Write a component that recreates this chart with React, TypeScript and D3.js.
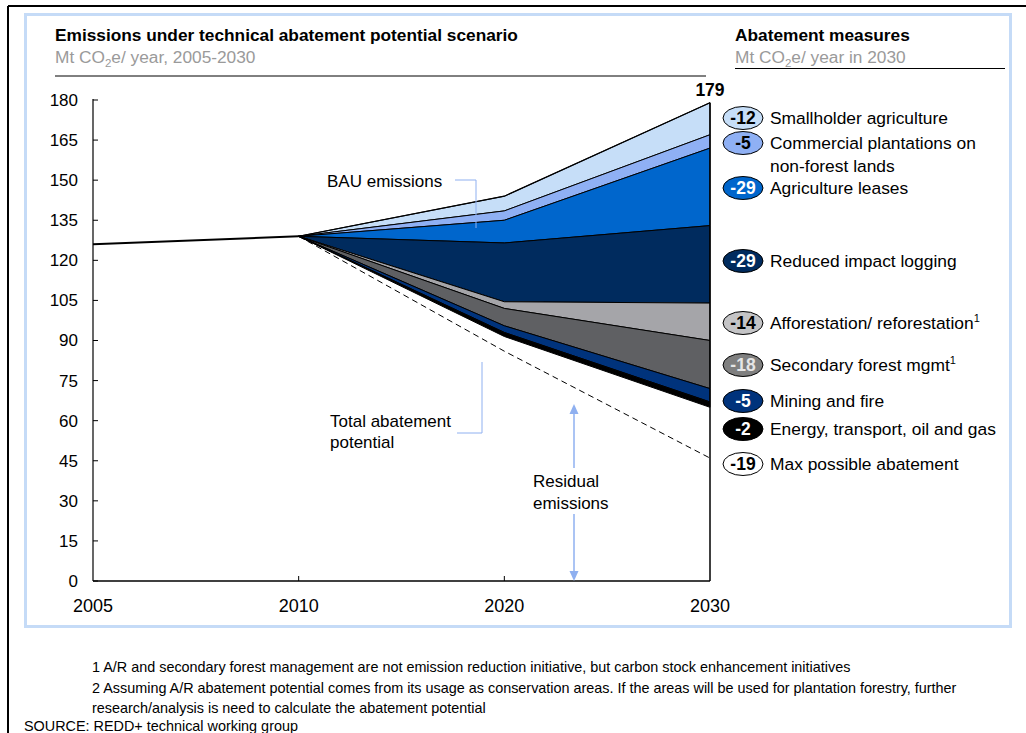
import React from "react";
import * as d3 from "d3";

// ---------- data ----------
const years = ["2005", "2010", "2020", "2030"];
const bauEmissions = [126, 129, 144, 179];
const measureNames = [
  "Smallholder agriculture",
  "Commercial plantations on\nnon-forest lands",
  "Agriculture leases",
  "Reduced impact logging",
  "Afforestation/ reforestation",
  "Secondary forest mgmt",
  "Mining and fire",
  "Energy, transport, oil and gas",
];
const measureLabels = ["-12", "-5", "-29", "-29", "-14", "-18", "-5", "-2"];
const measureNotes = ["", "", "", "", "1", "1", "", ""];
// reductions per measure (Mt CO2e) at 2010, 2020, 2030
const reduction2010 = [0, 0, 0, 0, 0, 0, 0, 0];
const reduction2020 = [5.5, 3.5, 8.5, 22, 2.5, 6.5, 2.5, 1.5];
const reduction2030 = [12, 5, 29, 29, 14, 18, 5, 2];
const maxAbatementExtra = [0, 5.5, 19]; // 2010, 2020, 2030
const maxAbatementLabel = "-19";
const maxAbatementName = "Max possible abatement";
const yTicks = [0, 15, 30, 45, 60, 75, 90, 105, 120, 135, 150, 165, 180];
const footnotes = [
  "1 A/R and secondary forest management are not emission reduction initiative, but carbon stock enhancement initiatives",
  "2 Assuming A/R abatement potential comes from its usage as conservation areas. If the areas will be used for plantation forestry, further",
  "research/analysis is need to calculate the abatement potential",
];
const sourceText = "SOURCE: REDD+ technical working group";

// ---------- styles ----------
const layerColors = ["#c6def8", "#8fb0f4", "#0066cc", "#002b5e", "#a5a5a9", "#5f6063", "#00337c", "#000000"];
const legendFill = ["#c6def8", "#8fb0f4", "#0066cc", "#002b5e", "#c4c4c6", "#7f7f7f", "#00337c", "#000000"];
const legendText = ["#000", "#000", "#fff", "#fff", "#000", "#e6e6e6", "#fff", "#fff"];
const legendY = [118, 143, 188, 261, 323, 365, 401, 429];
const maxLegendY = 464;
const FONT = "'Liberation Sans', Arial, sans-serif";
const annoColor = "#8fb0f0";

export default function App() {
  const x = d3.scalePoint<string>().domain(years).range([93, 710]).padding(0);
  const y = d3.scaleLinear().domain([0, 180]).range([581, 100]);

  const reductions = [reduction2010, reduction2020, reduction2030];
  const laterYears = years.slice(1);
  const laterBau = bauEmissions.slice(1);

  // cumulative boundaries: bounds[k][t] = value after subtracting first k measures
  const bounds: number[][] = [];
  for (let k = 0; k <= measureNames.length; k++) {
    bounds.push(
      laterYears.map((_, t) => laterBau[t] - d3.sum(reductions[t].slice(0, k)))
    );
  }
  const maxLine = laterYears.map((_, t) => bounds[measureNames.length][t] - maxAbatementExtra[t]);

  const layers = measureNames.map((_, k) => {
    const top = bounds[k];
    const bot = bounds[k + 1];
    const pts: [number, number][] = [
      ...top.map((v, t) => [x(laterYears[t]) as number, y(v)] as [number, number]),
      ...bot.map((v, t) => [x(laterYears[t]) as number, y(v)] as [number, number]).reverse(),
    ];
    return "M" + pts.map((p) => p.join(",")).join("L") + "Z";
  });

  const line = d3
    .line<[string, number]>()
    .x((d) => x(d[0]) as number)
    .y((d) => y(d[1]));

  const histLine = line([
    [years[0], bauEmissions[0]],
    [years[1], bauEmissions[1]],
  ]);
  const dashed = line(laterYears.map((yr, t) => [yr, maxLine[t]] as [string, number]));

  const x0 = x(years[0]) as number;
  const xEnd = x(years[3]) as number;

  const sub2 = (
    <>
      <tspan fontSize={11.5} dy={4}>2</tspan>
      <tspan dy={-4}>e/ </tspan>
    </>
  );

  return (
    <svg
      width={1026}
      height={733}
      style={{ position: "absolute", left: 0, top: 0, fontFamily: FONT }}
    >
      <rect x={0} y={0} width={1026} height={733} fill="#fff" />
      {/* outer black frame */}
      <line x1={8} y1={6} x2={1026} y2={6} stroke="#000" strokeWidth={2} />
      <line x1={8} y1={6} x2={8} y2={733} stroke="#000" strokeWidth={2} />
      {/* light blue frame */}
      <rect x={25.5} y={14.5} width={985} height={612} fill="none" stroke="#c5dbf7" strokeWidth={3} />

      {/* headers */}
      <text x={55} y={41} fontSize={17.3} fontWeight="bold" fill="#000">
        Emissions under technical abatement potential scenario
      </text>
      <text x={55} y={63} fontSize={17.3} fill="#9a9a9a">
        Mt CO{sub2}year, 2005-2030
      </text>
      <line x1={55} y1={76} x2={706} y2={76} stroke="#000" strokeWidth={1} />

      <text x={735} y={41} fontSize={17.3} fontWeight="bold" fill="#000">
        Abatement measures
      </text>
      <text x={735} y={63} fontSize={17.3} fill="#9a9a9a">
        Mt CO{sub2}year in 2030
      </text>
      <line x1={735} y1={68.5} x2={1005} y2={68.5} stroke="#000" strokeWidth={1} />

      {/* layers */}
      {layers.map((d, k) => (
        <path key={k} d={d} fill={layerColors[k]} stroke="#000" strokeWidth={1} strokeLinejoin="round" />
      ))}
      {/* BAU top line */}
      <path
        d={line(laterYears.map((yr, t) => [yr, laterBau[t]] as [string, number])) || ""}
        fill="none"
        stroke="#000"
        strokeWidth={1.2}
      />
      <path d={histLine || ""} fill="none" stroke="#000" strokeWidth={2} />
      <path d={dashed || ""} fill="none" stroke="#000" strokeWidth={1} strokeDasharray="6,4" />

      {/* axes */}
      <line x1={x0} y1={y(180) - 1} x2={x0} y2={y(0)} stroke="#000" strokeWidth={1.2} />
      <line x1={x0} y1={y(0)} x2={xEnd} y2={y(0)} stroke="#000" strokeWidth={1.5} />
      <line x1={xEnd} y1={y(bauEmissions[3])} x2={xEnd} y2={y(0)} stroke="#000" strokeWidth={1.5} />
      {yTicks.map((t) => (
        <g key={t}>
          <line x1={x0} y1={y(t)} x2={x0 + 5} y2={y(t)} stroke="#000" strokeWidth={1} />
          <text x={78} y={y(t)} dy="0.35em" fontSize={17} textAnchor="end" fill="#000">
            {t}
          </text>
        </g>
      ))}
      {years.map((yr, i) => (
        <g key={yr}>
          {i > 0 && i < years.length - 1 && (
            <line x1={x(yr)} y1={y(0)} x2={x(yr)} y2={y(0) - 5} stroke="#000" strokeWidth={1} />
          )}
          <text x={x(yr)} y={612} fontSize={18} textAnchor="middle" fill="#000">
            {yr}
          </text>
        </g>
      ))}
      <text x={xEnd} y={96} fontSize={17.5} fontWeight="bold" textAnchor="middle" fill="#000">
        {bauEmissions[3]}
      </text>

      {/* annotations */}
      <text x={327} y={187} fontSize={17} fill="#000">BAU emissions</text>
      <polyline points="455,180 476,180 476,228" fill="none" stroke={annoColor} strokeWidth={1} />

      <text x={330} y={427} fontSize={17} fill="#000">Total abatement</text>
      <text x={330} y={448} fontSize={17} fill="#000">potential</text>
      <polyline points="482,362 482,433 457,433" fill="none" stroke={annoColor} strokeWidth={1} />

      <text x={533} y={487} fontSize={17} fill="#000">Residual</text>
      <text x={533} y={509} fontSize={17} fill="#000">emissions</text>
      <line x1={574} y1={412} x2={574} y2={468} stroke={annoColor} strokeWidth={1.5} />
      <line x1={574} y1={514} x2={574} y2={574} stroke={annoColor} strokeWidth={1.5} />
      <path d="M574,404 L569.5,414 L578.5,414 Z" fill={annoColor} />
      <path d="M574,581 L569.5,571 L578.5,571 Z" fill={annoColor} />

      {/* legend */}
      {measureNames.map((name, k) => {
        const lines = name.split("\n");
        return (
          <g key={k}>
            <ellipse cx={743} cy={legendY[k]} rx={20} ry={11.5} fill={legendFill[k]} stroke="#000" strokeWidth={1} />
            <text x={743} y={legendY[k]} dy="0.36em" fontSize={17.5} fontWeight="bold" textAnchor="middle" fill={legendText[k]}>
              {measureLabels[k]}
            </text>
            {lines.map((ln, j) => (
              <text key={j} x={770} y={legendY[k] + j * 23} dy="0.36em" fontSize={17.4} fill="#000">
                {ln}
                {j === lines.length - 1 && measureNotes[k] && (
                  <tspan fontSize={11} dy={-7}>{measureNotes[k]}</tspan>
                )}
              </text>
            ))}
          </g>
        );
      })}
      <ellipse cx={743} cy={maxLegendY} rx={20} ry={11.5} fill="#fff" stroke="#000" strokeWidth={1} />
      <text x={743} y={maxLegendY} dy="0.36em" fontSize={17.5} fontWeight="bold" textAnchor="middle" fill="#000">
        {maxAbatementLabel}
      </text>
      <text x={770} y={maxLegendY} dy="0.36em" fontSize={17.4} fill="#000">{maxAbatementName}</text>

      {/* footnotes */}
      {footnotes.map((f, i) => (
        <text key={i} x={92} y={672 + i * 20.5} fontSize={14.4} fill="#000">{f}</text>
      ))}
      <text x={24} y={731} fontSize={14.4} fill="#000">{sourceText}</text>
    </svg>
  );
}
